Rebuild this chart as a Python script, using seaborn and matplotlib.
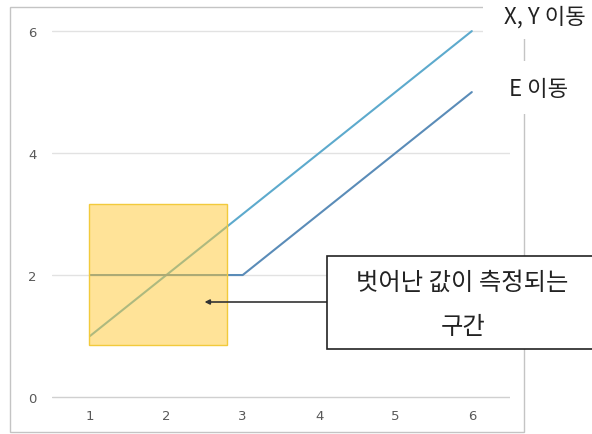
import matplotlib
matplotlib.use("Agg")
import matplotlib.pyplot as plt
from matplotlib import patches
import seaborn as sns
import pandas as pd

# series values
x_vals = [1, 2, 3, 4, 5, 6]
xy_shift = [1, 2, 3, 4, 5, 6]
e_shift = [2, 2, 2, 3, 4, 5]
x_ticks = [1, 2, 3, 4, 5, 6]
y_ticks = [0, 2, 4, 6]

# highlighted interval (data units)
band_x = [0.99, 2.8]
band_y = [0.85, 3.16]

label_xy = "X, Y 이동"
label_e = "E 이동"
note_lines = ["벗어난 값이 측정되는", "구간"]

sns.set_theme(style="white")
plt.rcParams["font.family"] = ["Noto Sans CJK KR", "DejaVu Sans"]

W, H = 592, 435
fig = plt.figure(figsize=(W / 100, H / 100), dpi=100)
# axes: x 0.5..6.5 -> 51.8..510 px ; y -0.1..6.1 -> 404.1..26 px
ax = fig.add_axes([51.8 / W, (H - 404.1) / H, 458.2 / W, 378.1 / H])

df = pd.DataFrame({"x": x_vals + x_vals,
                   "y": xy_shift + e_shift,
                   "series": [label_xy] * len(x_vals) + [label_e] * len(x_vals)})
sns.lineplot(data=df, x="x", y="y", hue="series",
             palette={label_xy: "#5DAACD", label_e: "#5A8CB8"},
             linewidth=1.5, legend=False, ax=ax, zorder=3)

ax.set_xlim(0.5, 6.5)
ax.set_ylim(-0.1, 6.1)
ax.set_xticks(x_ticks)
ax.set_yticks(y_ticks)
ax.set_xlabel("")
ax.set_ylabel("")
for s in ax.spines.values():
    s.set_visible(False)
ax.grid(axis="y", color="#e2e2e2", linewidth=1)
ax.grid(axis="x", visible=False)
ax.get_ygridlines()[0].set_color("#d0d0d0")
ax.tick_params(axis="both", length=0, labelsize=9.5, colors="#595959",
               labelfontfamily="DejaVu Sans")
ax.tick_params(axis="x", pad=4)
ax.tick_params(axis="y", pad=11)

ax.add_patch(patches.Rectangle((band_x[0], band_y[0]), band_x[1] - band_x[0],
                               band_y[1] - band_y[0],
                               facecolor=(1.0, 0.79, 0.2, 0.5),
                               edgecolor="#F2CA3C", linewidth=1, zorder=4))

# outer chart frame
fig.add_artist(patches.Rectangle((10 / W, 1 - 433 / H), 514 / W, 425 / H,
                                 transform=fig.transFigure, fill=False,
                                 edgecolor="#c4c4c4", linewidth=1, zorder=1))

# series labels outside the frame, on white patches that break the frame
fig.add_artist(patches.Rectangle((483 / W, 1 - 40 / H), 120 / W, 45 / H,
                                 transform=fig.transFigure, facecolor="white",
                                 edgecolor="none", zorder=4))
fig.add_artist(patches.Rectangle((495 / W, 1 - 115 / H), 110 / W, 53 / H,
                                 transform=fig.transFigure, facecolor="white",
                                 edgecolor="none", zorder=4))
fig.text(545 / W, 1 - 17 / H, label_xy, ha="center", va="center", fontsize=16,
         color="#222222", zorder=5)
fig.text(539 / W, 1 - 89 / H, label_e, ha="center", va="center", fontsize=16,
         color="#222222", zorder=5)

# note box with arrow into the interval
fig.add_artist(patches.Rectangle((327 / W, 1 - 350 / H), 300 / W, 93 / H,
                                 transform=fig.transFigure, facecolor="white",
                                 edgecolor="#222222", linewidth=1.2, zorder=6))
fig.text(462 / W, 1 - 283 / H, note_lines[0], ha="center", va="center",
         fontsize=17.5, color="#222222", zorder=7)
fig.text(463 / W, 1 - 327 / H, note_lines[1], ha="center", va="center",
         fontsize=17.5, color="#222222", zorder=7)

tail = fig.transFigure.transform((327 / W, 1 - 303 / H))
tail_data = ax.transData.inverted().transform(tail)
ax.annotate("", xy=(2.5, tail_data[1]), xytext=(tail_data[0], tail_data[1]),
            arrowprops=dict(arrowstyle="-|>", color="#333333", lw=1.2,
                            mutation_scale=7, shrinkA=0, shrinkB=0),
            annotation_clip=False, zorder=5)

fig.savefig("out.png", dpi=100)
